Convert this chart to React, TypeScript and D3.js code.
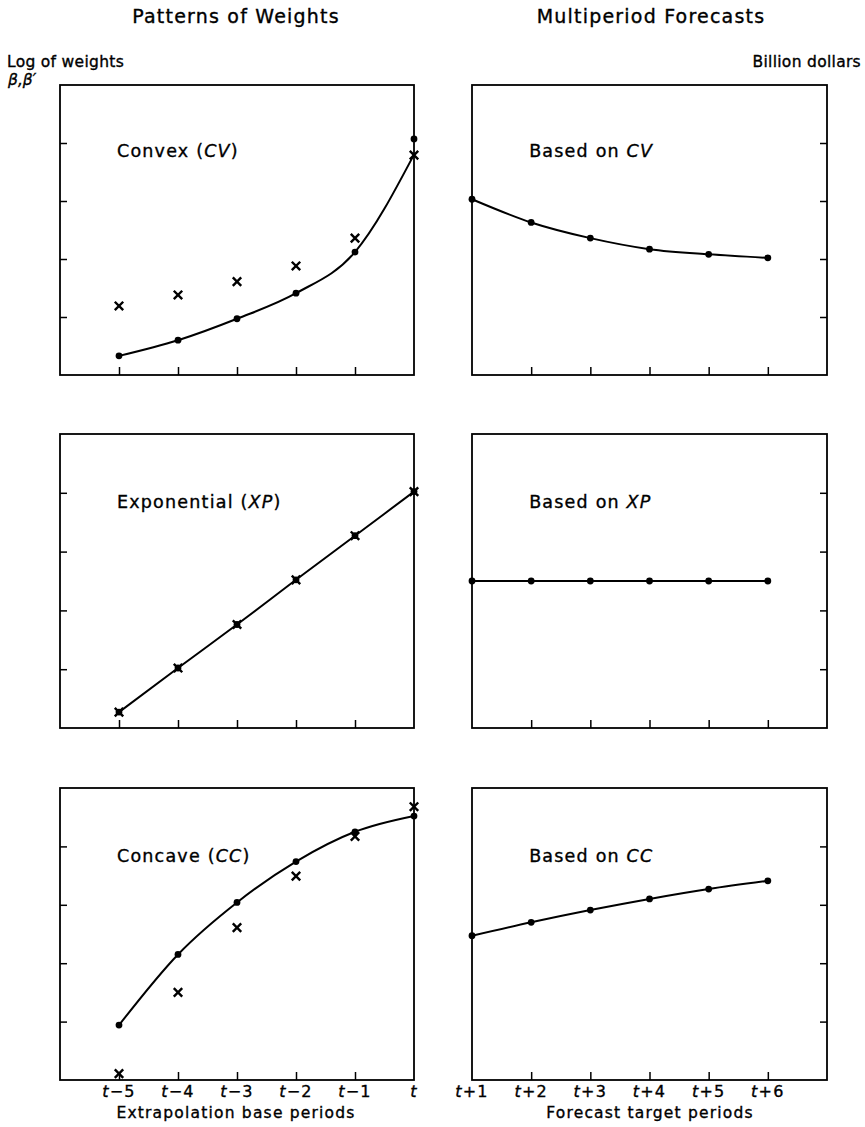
import React, { useEffect, useRef } from 'react';
import * as d3 from 'd3';

// tick labels
const basePeriods = ['-5', '-4', '-3', '-2', '-1', ''];
const targetPeriods = ['+1', '+2', '+3', '+4', '+5', '+6'];
const yTicks = [1, 2, 3, 4];

// left column: log of weights (dots = beta, crosses = beta')
const cvDots = [0.33, 0.6, 0.97, 1.41, 2.12, 4.07];
const cvCrosses = [1.19, 1.38, 1.61, 1.88, 2.36, 3.79];
const cvCurve = [0.33, 0.6, 0.97, 1.41, 2.12, 3.8]; // drawn curve meets the border at the cross
const xpDots = [0.27, 1.02, 1.76, 2.52, 3.27, 4.02];
const xpCrosses = [0.27, 1.02, 1.76, 2.52, 3.27, 4.02];
const ccDots = [0.94, 2.15, 3.04, 3.74, 4.25, 4.52];
const ccCrosses = [0.11, 1.5, 2.61, 3.49, 4.17, 4.68];

// right column: forecasts, billion dollars
const cvForecast = [3.03, 2.63, 2.36, 2.17, 2.08, 2.02];
const xpForecast = [2.5, 2.5, 2.5, 2.5, 2.5, 2.5];
const ccForecast = [2.47, 2.7, 2.91, 3.1, 3.27, 3.41];

const rows = [
  { name: 'Convex', code: 'CV', dots: cvDots, crosses: cvCrosses, curve: cvCurve, forecast: cvForecast },
  { name: 'Exponential', code: 'XP', dots: xpDots, crosses: xpCrosses, curve: xpDots, forecast: xpForecast },
  { name: 'Concave', code: 'CC', dots: ccDots, crosses: ccCrosses, curve: ccDots, forecast: ccForecast },
];

const FONT = "'DejaVu Sans', sans-serif";

const App = () => {
  const ref = useRef<SVGSVGElement>(null);

  useEffect(() => {
    const svg = d3.select(ref.current);
    svg.selectAll('*').remove();

    const rowBox = [
      { top: 85, bottom: 375 },
      { top: 434, bottom: 728 },
      { top: 788, bottom: 1080 },
    ];
    const labelY = [157, 508, 862];

    const xLeft = d3.scaleLinear().domain([0, 6]).range([60, 414]);
    const xRight = d3.scaleLinear().domain([0, 6]).range([472, 827]);

    const txt = (g: any, x: number, y: number, size: number, ls: number) =>
      g.append('text').attr('x', x).attr('y', y).attr('font-size', size)
        .attr('letter-spacing', ls).attr('stroke', '#000').attr('stroke-width', 0.35);

    // headers
    txt(svg, 236, 23, 19, 1.2).attr('text-anchor', 'middle').text('Patterns of Weights');
    txt(svg, 651, 23, 19, 1.2).attr('text-anchor', 'middle').text('Multiperiod Forecasts');
    txt(svg, 7, 67, 15.5, 0.3).text('Log of weights');
    txt(svg, 8, 85, 15.5, 0).attr('font-style', 'italic').text('β,β′');
    txt(svg, 861, 67, 15.5, 0.3).attr('text-anchor', 'end').text('Billion dollars');

    const cross = d3.symbol().type(d3.symbolX).size(48);
    const curve = d3.curveMonotoneX;

    rows.forEach((row, i) => {
      const box = rowBox[i];
      const y = d3.scaleLinear().domain([0, 5]).range([box.bottom, box.top]);
      const isLast = i === rows.length - 1;

      // ---- left panel: patterns of weights ----
      const gl = svg.append('g');
      gl.append('rect')
        .attr('x', xLeft(0)).attr('y', y(5))
        .attr('width', xLeft(6) - xLeft(0)).attr('height', y(0) - y(5))
        .attr('fill', 'none').attr('stroke', '#000').attr('stroke-width', 1.8);

      gl.append('g').attr('transform', `translate(${xLeft(0)},0)`)
        .call(d3.axisLeft(y).tickValues(yTicks).tickSize(-7).tickFormat(() => ''))
        .call(g => g.select('.domain').remove());
      gl.append('g').attr('transform', `translate(0,${y(0)})`)
        .call(d3.axisBottom(xLeft).tickValues([1, 2, 3, 4, 5]).tickSize(-8).tickFormat(() => ''))
        .call(g => g.select('.domain').remove());
      gl.selectAll('.tick line').attr('stroke-width', 1.5);

      const lineL = d3.line<number>()
        .x((_, k) => xLeft(k + 1))
        .y(d => y(d))
        .curve(curve);
      gl.append('path').datum(row.curve).attr('d', lineL)
        .attr('fill', 'none').attr('stroke', '#000').attr('stroke-width', 2);
      gl.selectAll('.cross').data(row.crosses).join('path')
        .attr('transform', (d, k) => `translate(${xLeft(k + 1)},${y(d)})`)
        .attr('d', cross).attr('fill', 'none').attr('stroke', '#000').attr('stroke-width', 2.4);
      gl.selectAll('.dot').data(row.dots).join('circle')
        .attr('cx', (_, k) => xLeft(k + 1)).attr('cy', d => y(d)).attr('r', 3.4).attr('fill', '#000');

      const labL = txt(gl, xLeft(1) - 2, labelY[i], 17.5, 1.2);
      labL.append('tspan').text(`${row.name} (`);
      labL.append('tspan').attr('font-style', 'italic').text(row.code);
      labL.append('tspan').text(')');

      // ---- right panel: multiperiod forecasts ----
      const gr = svg.append('g');
      gr.append('rect')
        .attr('x', xRight(0)).attr('y', y(5))
        .attr('width', xRight(6) - xRight(0)).attr('height', y(0) - y(5))
        .attr('fill', 'none').attr('stroke', '#000').attr('stroke-width', 1.8);
      gr.append('g').attr('transform', `translate(${xRight(6)},0)`)
        .call(d3.axisRight(y).tickValues(yTicks).tickSize(-7).tickFormat(() => ''))
        .call(g => g.select('.domain').remove());
      gr.append('g').attr('transform', `translate(0,${y(0)})`)
        .call(d3.axisBottom(xRight).tickValues([1, 2, 3, 4, 5]).tickSize(-8).tickFormat(() => ''))
        .call(g => g.select('.domain').remove());
      gr.selectAll('.tick line').attr('stroke-width', 1.5);

      const lineR = d3.line<number>()
        .x((_, k) => xRight(k))
        .y(d => y(d))
        .curve(curve);
      gr.append('path').datum(row.forecast).attr('d', lineR)
        .attr('fill', 'none').attr('stroke', '#000').attr('stroke-width', 2);
      gr.selectAll('.dot').data(row.forecast).join('circle')
        .attr('cx', (_, k) => xRight(k)).attr('cy', d => y(d)).attr('r', 3.4).attr('fill', '#000');

      const labR = txt(gr, xRight(1) - 2, labelY[i], 17.5, 1.2);
      labR.append('tspan').text('Based on ');
      labR.append('tspan').attr('font-style', 'italic').text(row.code);

      if (isLast) {
        const tickLabel = (g: any, xs: any, labels: string[], offset: number) => {
          labels.forEach((lab, k) => {
            const t = txt(g, xs(k + offset), 1097, 16, 1.2).attr('text-anchor', 'middle');
            t.append('tspan').attr('font-style', 'italic').text('t');
            if (lab) t.append('tspan').text(lab.replace('-', '−'));
          });
        };
        tickLabel(gl, xLeft, basePeriods, 1);
        tickLabel(gr, xRight, targetPeriods, 0);
        txt(gl, 236, 1118, 15.5, 1.2).attr('text-anchor', 'middle').text('Extrapolation base periods');
        txt(gr, 650, 1118, 15.5, 1.2).attr('text-anchor', 'middle').text('Forecast target periods');
      }
    });
  }, []);

  return (
    <div style={{ position: 'absolute', left: 0, top: 0, background: '#fff' }}>
      <svg ref={ref} width={865} height={1127} style={{ display: 'block', fontFamily: FONT }} />
    </div>
  );
};

export default App;
